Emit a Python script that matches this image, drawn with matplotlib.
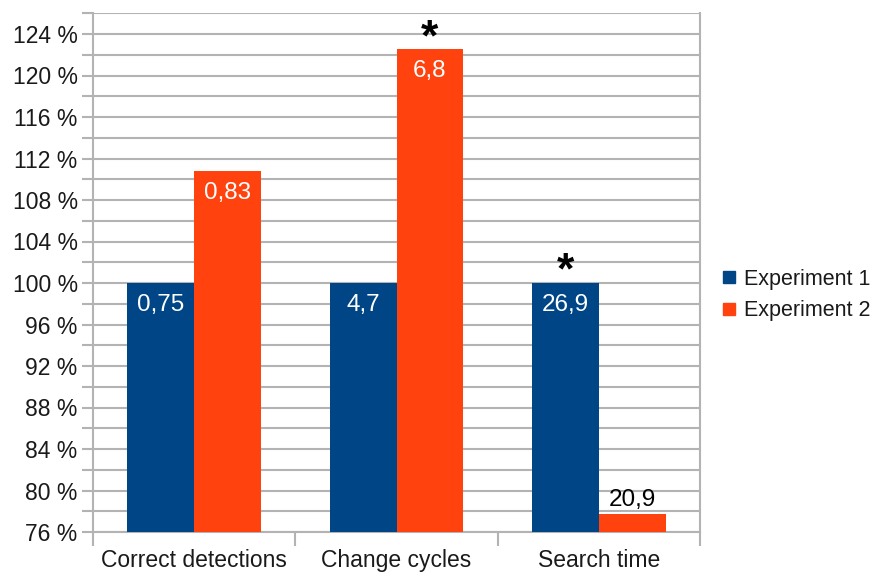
import matplotlib
matplotlib.use("Agg")
import matplotlib.pyplot as plt
import numpy as np
from matplotlib.lines import Line2D

categories = ["Correct detections", "Change cycles", "Search time"]
series_names = ["Experiment 1", "Experiment 2"]
exp1 = [100.0, 100.0, 100.0]
exp2 = [110.8, 122.6, 77.7]
exp1_labels = ["0,75", "4,7", "26,9"]
exp2_labels = ["0,83", "6,8", "20,9"]
exp1_star = [False, False, True]
exp2_star = [False, True, False]
yticks = list(range(76, 125, 4))
ytick_labels = [f"{v} %" for v in yticks]

blue = "#004586"
orange = "#ff420e"
grid_c = "#b3b3b3"

plt.rcParams['font.family'] = ['Liberation Sans', 'DejaVu Sans']

fig = plt.figure(figsize=(8.81, 5.74), dpi=100)
ax = fig.add_axes([93/881, 42/574, 607/881, (532-13.25)/574])

x = np.arange(len(categories))
w = 0.33
ax.bar(x - w/2, exp1, width=w, color=blue, zorder=3)
ax.bar(x + w/2, exp2, width=w, color=orange, zorder=3)
ax.set_xlim(-0.5, len(categories) - 0.5)
ax.set_ylim(76, 126)

ax.set_yticks(yticks)
ax.set_yticklabels(ytick_labels, fontsize=16.5, color="#1a1a1a")
ax.set_yticks(np.arange(78, 127, 4), minor=True)
ax.yaxis.grid(True, which='both', color=grid_c, linewidth=1.5, zorder=0)
ax.tick_params(axis='y', which='both', length=8, width=1.5, color=grid_c, pad=3)

ax.set_xticks(np.arange(-0.5, len(categories) + 0.5 - 1e-9, 1.0))
ax.set_xticklabels([])
ax.tick_params(axis='x', which='major', length=10, width=1.5, color=grid_c)
ax.set_xticks(x, minor=True)
ax.set_xticklabels(categories, minor=True, fontsize=16.5, color="#1a1a1a")
ax.tick_params(axis='x', which='minor', length=0, pad=12)

for s in ['left', 'bottom', 'right']:
    ax.spines[s].set_color(grid_c)
    ax.spines[s].set_linewidth(1.5)
ax.spines['top'].set_visible(False)

lab_fs = 17.5
star_fs = 32
for i in range(len(categories)):
    ax.text(x[i] - w/2, exp1[i] - 1.1, exp1_labels[i], ha='center', va='top',
            color='white', fontsize=lab_fs, zorder=4)
    if exp1_star[i]:
        ax.text(x[i] - w/2, exp1[i] + 0.0, "*", ha='center', va='baseline',
                color='black', fontsize=star_fs, fontweight='bold', zorder=4)
    if exp2[i] > 80:
        ax.text(x[i] + w/2, exp2[i] - 1.1, exp2_labels[i], ha='center', va='top',
                color='white', fontsize=lab_fs, zorder=4)
    else:
        ax.text(x[i] + w/2, exp2[i] + 0.3, exp2_labels[i], ha='center', va='bottom',
                color='black', fontsize=lab_fs, zorder=4)
    if exp2_star[i]:
        ax.text(x[i] + w/2, exp2[i] - 0.15, "*", ha='center', va='baseline',
                color='black', fontsize=star_fs, fontweight='bold', zorder=4)

handles = [Line2D([0], [0], marker='s', linestyle='', markersize=8,
                  markerfacecolor=c, markeredgecolor=c) for c in (blue, orange)]
fig.legend(handles, series_names, loc='center left',
           bbox_to_anchor=(718/881, 1 - 295/574), frameon=False,
           fontsize=15.5, handletextpad=0.2, labelspacing=0.5, handlelength=1.0,
           borderpad=0, borderaxespad=0, labelcolor="#1a1a1a")

fig.savefig("out.png", dpi=100)
